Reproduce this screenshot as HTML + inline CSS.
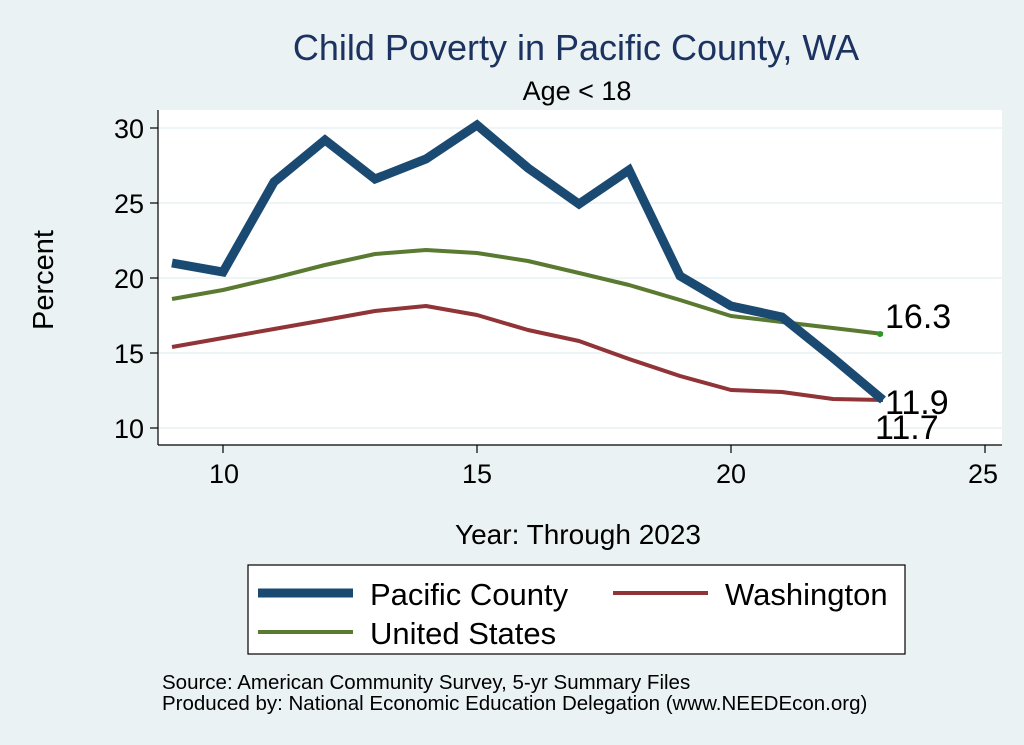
<!DOCTYPE html>
<html><head><meta charset="utf-8"><style>
html,body{margin:0;padding:0;background:#eaf2f3;}
svg{display:block;font-family:"Liberation Sans",Arial,sans-serif;}
</style></head><body>
<svg width="1024" height="745" viewBox="0 0 1024 745">
<rect x="0" y="0" width="1024" height="745" fill="#eaf2f3"/>
<rect x="158" y="110" width="844" height="335" fill="#ffffff"/>
<g stroke="#eaf2f3" stroke-width="1.5">
<line x1="158" y1="128" x2="1002" y2="128"/>
<line x1="158" y1="203" x2="1002" y2="203"/>
<line x1="158" y1="278" x2="1002" y2="278"/>
<line x1="158" y1="353" x2="1002" y2="353"/>
<line x1="158" y1="428" x2="1002" y2="428"/>
</g>
<g stroke="#000" stroke-width="1.2">
<line x1="158" y1="110" x2="158" y2="445"/>
<line x1="158" y1="445" x2="1002" y2="445"/>
<line x1="150" y1="128" x2="158" y2="128"/>
<line x1="150" y1="203" x2="158" y2="203"/>
<line x1="150" y1="278" x2="158" y2="278"/>
<line x1="150" y1="353" x2="158" y2="353"/>
<line x1="150" y1="428" x2="158" y2="428"/>
<line x1="223" y1="445" x2="223" y2="453"/>
<line x1="477" y1="445" x2="477" y2="453"/>
<line x1="731" y1="445" x2="731" y2="453"/>
<line x1="985" y1="445" x2="985" y2="453"/>
</g>
<g font-size="27" fill="#000" text-anchor="end">
<text x="144" y="138">30</text><text x="144" y="213">25</text><text x="144" y="288">20</text><text x="144" y="363">15</text><text x="144" y="438">10</text>
</g>
<g font-size="27" fill="#000" text-anchor="middle">
<text x="224" y="483">10</text><text x="477" y="483">15</text><text x="731" y="483">20</text><text x="983" y="483">25</text>
</g>
<text x="53" y="280" font-size="29" text-anchor="middle" transform="rotate(-90 53 280)">Percent</text>
<text x="578" y="544" font-size="28" text-anchor="middle">Year: Through 2023</text>
<text x="576" y="60" font-size="36" fill="#1c3260" text-anchor="middle">Child Poverty in Pacific County, WA</text>
<text x="577" y="100" font-size="27" text-anchor="middle">Age &lt; 18</text>
<polyline fill="none" stroke="#5a7a32" stroke-width="4" stroke-linejoin="round" points="172,299 223,290 274,278 325,265 375,254 426,250 477,253 528,261 579,273 629,285 680,300 731,316 782,322 833,328 883,334"/>
<polyline fill="none" stroke="#903438" stroke-width="4" stroke-linejoin="round" points="172,347 223,338 274,329 325,320 375,311 426,306 477,315 528,330 579,341 629,359 680,376 731,390 782,392 833,399 883,400"/>
<polyline fill="none" stroke="#1a4a72" stroke-width="9" stroke-linejoin="miter" points="172,263 223,272 274,182 325,140 375,179 426,159 477,125 528,168 579,204 629,170 680,276 731,306 782,317 833,358 883,400"/>
<circle cx="880" cy="334" r="3" fill="#2a9a2a"/>
<g font-size="34" fill="#000">
<text x="885" y="328">16.3</text>
<text x="885" y="414">11.9</text>
<text x="875" y="439">11.7</text>
</g>
<rect x="248" y="565" width="657" height="89" fill="#fff" stroke="#000" stroke-width="1.2"/>
<line x1="258" y1="593" x2="353" y2="593" stroke="#1a4a72" stroke-width="9"/>
<text x="370" y="605" font-size="31">Pacific County</text>
<line x1="613" y1="593" x2="708" y2="593" stroke="#903438" stroke-width="4"/>
<text x="725" y="605" font-size="31">Washington</text>
<line x1="258" y1="632" x2="353" y2="632" stroke="#5a7a32" stroke-width="4"/>
<text x="370" y="644" font-size="31">United States</text>
<text x="162" y="689" font-size="20.5">Source: American Community Survey, 5-yr Summary Files</text>
<text x="162" y="710" font-size="20.5">Produced by: National Economic Education Delegation (www.NEEDEcon.org)</text>
</svg>
</body></html>
